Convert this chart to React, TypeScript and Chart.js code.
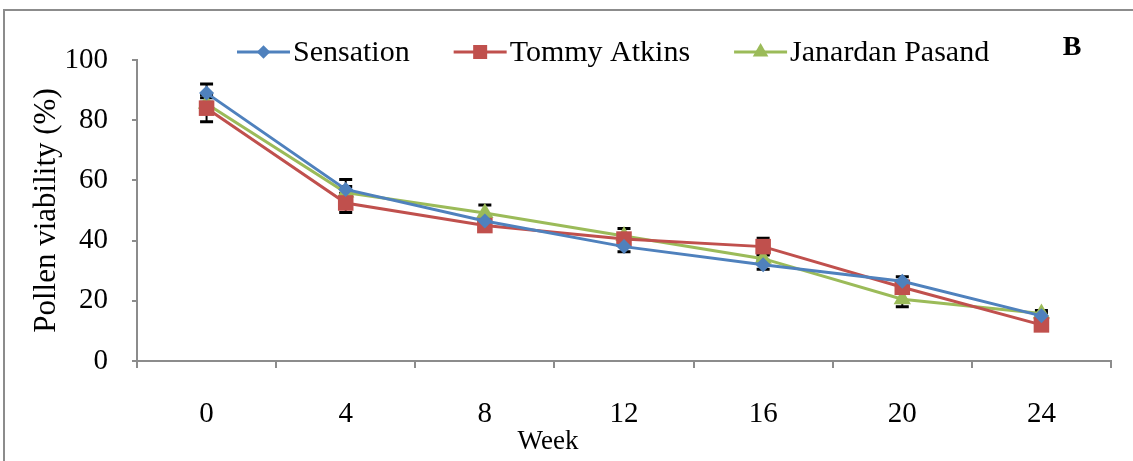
import React, { useEffect, useRef } from "react";
import { Chart, registerables } from "chart.js";

Chart.register(...registerables);

const weeks = ["0", "4", "8", "12", "16", "20", "24"];
const seriesNames = ["Sensation", "Tommy Atkins", "Janardan Pasand"];
const sensation = [89, 57, 46.5, 38, 32, 26.5, 15];
const tommyAtkins = [84, 52.5, 45, 40.5, 38, 24.5, 12];
const janardanPasand = [85.5, 56, 49.2, 41.5, 34, 20.5, 15.8];
const sensationErr = [3, 3.3, 1.5, 1.7, 1.5, 1.5, 1];
const tommyAtkinsErr = [4.5, 3.2, 1.5, 1.5, 2.8, 2, 1];
const janardanPasandErr = [2, 2, 2.6, 2.5, 1.5, 2.5, 1];
const yMin = 0;
const yMax = 100;
const yStep = 20;
const xTitle = "Week";
const yTitle = "Pollen viability (%)";
const panelLabel = "B";

const FONT = '"Liberation Serif", "Times New Roman", serif';
const AXIS_GRAY = "#8c8c8c";
const colors = ["#4F81BD", "#C0504D", "#9BBB59"];
const pointStyles = ["rectRot", "rect", "triangle"];
const pointRadii = [7.5, 11, 10];

function drawMarker(ctx: CanvasRenderingContext2D, style: string, x: number, y: number, r: number, color: string) {
  ctx.save();
  ctx.fillStyle = color;
  ctx.beginPath();
  if (style === "rectRot") {
    ctx.moveTo(x, y - r);
    ctx.lineTo(x + r, y);
    ctx.lineTo(x, y + r);
    ctx.lineTo(x - r, y);
  } else if (style === "rect") {
    const s = r * Math.SQRT1_2;
    ctx.rect(x - s, y - s, 2 * s, 2 * s);
  } else {
    for (let k = 0; k < 3; k++) {
      const a = (k * 2 * Math.PI) / 3;
      const px = x + Math.sin(a) * r;
      const py = y - Math.cos(a) * r;
      if (k === 0) ctx.moveTo(px, py);
      else ctx.lineTo(px, py);
    }
  }
  ctx.closePath();
  ctx.fill();
  ctx.restore();
}

const errorBarPlugin = {
  id: "errorBars",
  beforeDatasetsDraw(chart: any) {
    const ctx = chart.ctx;
    const yScale = chart.scales.y;
    ctx.save();
    ctx.strokeStyle = "#000";
    chart.data.datasets.forEach((ds: any, i: number) => {
      const meta = chart.getDatasetMeta(i);
      meta.data.forEach((pt: any, j: number) => {
        const v = ds.data[j];
        const e = ds.errors[j];
        const x = pt.x;
        const yt = yScale.getPixelForValue(v + e);
        const yb = yScale.getPixelForValue(v - e);
        ctx.lineWidth = 2;
        ctx.beginPath();
        ctx.moveTo(x, yt);
        ctx.lineTo(x, yb);
        ctx.stroke();
        ctx.lineWidth = 3;
        ctx.beginPath();
        ctx.moveTo(x - 6.5, yt);
        ctx.lineTo(x + 6.5, yt);
        ctx.moveTo(x - 6.5, yb);
        ctx.lineTo(x + 6.5, yb);
        ctx.stroke();
      });
    });
    ctx.restore();
  },
};

const decorPlugin = {
  id: "decor",
  afterDraw(chart: any) {
    const ctx: CanvasRenderingContext2D = chart.ctx;
    ctx.save();
    // outer frame
    ctx.strokeStyle = AXIS_GRAY;
    ctx.lineWidth = 2;
    ctx.strokeRect(4, 10, 1150, 470);

    // legend
    ctx.font = `30px ${FONT}`;
    ctx.textBaseline = "middle";
    ctx.textAlign = "left";
    let x = 237;
    const ly = 52;
    chart.data.datasets.forEach((ds: any, i: number) => {
      ctx.strokeStyle = colors[i];
      ctx.lineWidth = 3;
      ctx.beginPath();
      ctx.moveTo(x, ly);
      ctx.lineTo(x + 53, ly);
      ctx.stroke();
      drawMarker(ctx, pointStyles[i], x + 26.5, ly, pointRadii[i] * 0.9, colors[i]);
      ctx.fillStyle = "#000";
      ctx.fillText(ds.label, x + 56, ly + 1);
      x = x + 56 + ctx.measureText(ds.label).width + 44;
    });

    // x title
    ctx.textAlign = "center";
    ctx.font = `27px ${FONT}`;
    ctx.fillStyle = "#000";
    ctx.fillText(xTitle, 548, 442);

    // panel label
    ctx.font = `bold 28px ${FONT}`;
    ctx.fillText(panelLabel, 1072, 48);
    ctx.restore();
  },
};

export default function App() {
  const canvasRef = useRef<HTMLCanvasElement | null>(null);

  useEffect(() => {
    if (!canvasRef.current) return;
    const seriesValues = [sensation, tommyAtkins, janardanPasand];
    const seriesErrors = [sensationErr, tommyAtkinsErr, janardanPasandErr];
    const chart = new Chart(canvasRef.current, {
      type: "line",
      data: {
        labels: weeks,
        datasets: seriesNames.map((name, i) => ({
          label: name,
          data: seriesValues[i],
          errors: seriesErrors[i],
          borderColor: colors[i],
          backgroundColor: colors[i],
          borderWidth: 3,
          pointStyle: pointStyles[i],
          pointRadius: pointRadii[i],
          pointBackgroundColor: colors[i],
          pointBorderColor: colors[i],
          pointBorderWidth: 0,
          tension: 0,
          fill: false,
        })) as any,
      },
      options: {
        animation: false,
        responsive: true,
        maintainAspectRatio: false,
        layout: { padding: { top: 60, right: 22, left: 0, bottom: 0 } },
        plugins: {
          legend: { display: false },
          tooltip: { enabled: false },
        },
        scales: {
          x: {
            type: "category",
            offset: true,
            grid: {
              offset: true,
              drawOnChartArea: false,
              tickLength: 7,
              color: AXIS_GRAY,
              lineWidth: 2,
            },
            border: { color: AXIS_GRAY, width: 2 },
            ticks: {
              color: "#000",
              font: { family: FONT, size: 29 },
              padding: 29,
              maxRotation: 0,
            },
            afterFit: (s: any) => {
              s.height = 100;
            },
          },
          y: {
            min: yMin,
            max: yMax,
            grid: {
              drawOnChartArea: false,
              tickLength: 5,
              color: AXIS_GRAY,
              lineWidth: 2,
            },
            border: { color: AXIS_GRAY, width: 2 },
            ticks: {
              stepSize: yStep,
              color: "#000",
              font: { family: FONT, size: 29 },
              padding: 24,
            },
            title: {
              display: true,
              text: yTitle,
              color: "#000",
              font: { family: FONT, size: 31 },
              padding: { top: 28, bottom: 0 },
            },
            afterFit: (s: any) => {
              s.width = 137;
            },
          },
        },
      } as any,
      plugins: [errorBarPlugin, decorPlugin],
    });
    return () => chart.destroy();
  }, []);

  return (
    <div style={{ position: "absolute", left: 0, top: 0, width: 1133, height: 461, background: "#fff" }}>
      <canvas ref={canvasRef} />
    </div>
  );
}
